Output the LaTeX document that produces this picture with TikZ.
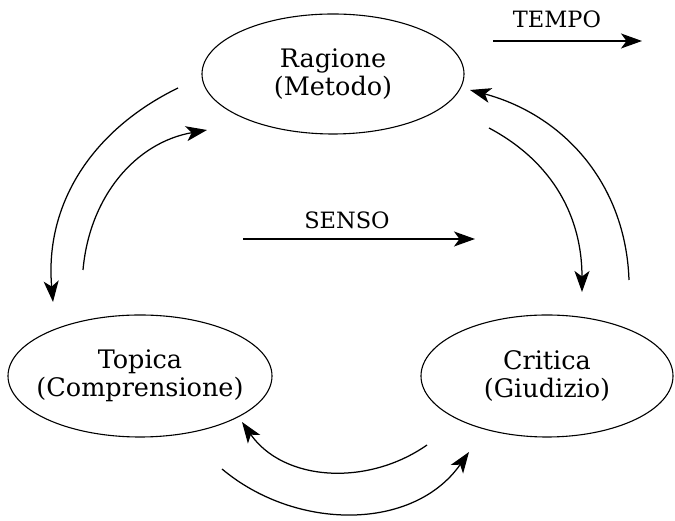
\documentclass[tikz,border=0pt]{standalone}
\usepackage{fontspec}
\setmainfont{DejaVu Serif}
\usetikzlibrary{arrows.meta,shapes.geometric}
\begin{document}
\begin{tikzpicture}[x=1pt,y=1pt,
  elli/.style={draw, ellipse, line width=1.1pt, inner sep=0pt, outer sep=0pt},
  txt/.style={align=center, inner sep=0pt, font=\fontsize{25.5}{28.5}\selectfont},
  lbl/.style={font=\fontsize{22.5}{26}\selectfont, anchor=base},
  arc/.style={line width=1.25pt, -{Stealth[length=21pt,width=15pt,inset=5.5pt]}}]
\useasboundingbox (0,0) rectangle (675,521);
% ellipses
\node[elli, minimum width=262pt, minimum height=120pt] (rag) at (333,447) {};
\node[elli, minimum width=264pt, minimum height=122pt] (top) at (140,145) {};
\node[elli, minimum width=252pt, minimum height=122pt] (cri) at (547,145) {};
\node[txt] (ragt) at (rag.center) {Ragione\\(Metodo)};
\node[txt] (topt) at (top.center) {Topica\\(Comprensione)};
\node[txt] (crit) at (cri.center) {Critica\\(Giudizio)};
% labels
\node[lbl] (tempo) at (557,493) {TEMPO};
\node[lbl] (senso) at (347,292) {SENSO};
\coordinate (t1) at (493,480); \coordinate (t2) at (642,480);
\coordinate (s1) at (243,282); \coordinate (s2) at (475,282);
\draw[arc] (t1) -- (t2);
\draw[arc] (s1) -- (s2);
% curved arrows
\coordinate (a1s) at (178,433); \coordinate (a1e) at (53,219);
\coordinate (a2s) at (83,251);  \coordinate (a2e) at (207,391);
\coordinate (a3s) at (629,241); \coordinate (a3e) at (470,431);
\coordinate (a4s) at (489,393); \coordinate (a4e) at (582,229);
\coordinate (a5s) at (427,76);  \coordinate (a5e) at (242,99);
\coordinate (a6s) at (222,52);  \coordinate (a6e) at (469,69);
\draw[arc] (a1s) to[out=206,in=95] (a1e);
\draw[arc] (a2s) to[out=85,in=190] (a2e);
\draw[arc] (a3s) to[out=92,in=-15] (a3e);
\draw[arc] (a4s) to[out=-28,in=90] (a4e);
\draw[arc] (a5s) to[out=215,in=-55] (a5e);
\draw[arc] (a6s) to[out=-40,in=235] (a6e);
\end{tikzpicture}
\end{document}
